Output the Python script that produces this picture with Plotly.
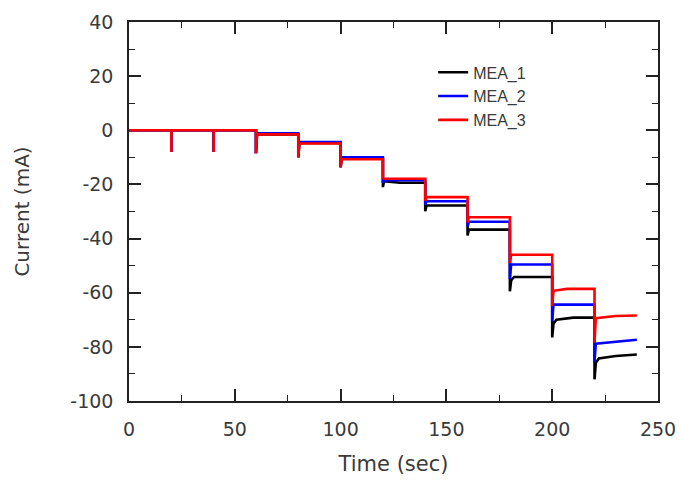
import plotly.graph_objects as go

# ---- data ----
t_mea1 = [0, 20, 20, 20, 40, 40, 40, 60, 60, 60.5, 80, 80, 80.5, 100, 100, 100.5,
          120, 120, 120.5, 128, 140, 140, 140.6, 160, 160, 160.6, 180, 180, 180.6, 182,
          200, 200, 200.6, 202, 210, 220, 220, 220.6, 222, 230, 240]
i_mea1 = [0, 0, -8, 0, 0, -8, 0, 0, -8.5, -1.5, -1.5, -10, -4.7, -4.7, -13.7, -10.5,
          -10.5, -21, -18.8, -19.4, -19.4, -29.9, -27.8, -27.8, -38.9, -36.7, -36.7, -59.5, -55.5, -54.2,
          -54.2, -76.5, -71.5, -70, -69.2, -69.2, -92, -86, -84.3, -83.4, -82.8]

t_mea2 = [0, 20, 20, 20, 40, 40, 40, 60, 60, 60.5, 80, 80, 80.5, 100, 100, 100.5,
          120, 120, 120.5, 140, 140, 140.6, 160, 160, 160.6, 180, 180, 180.6,
          200, 200, 200.6, 220, 220, 220.6, 230, 240]
i_mea2 = [0, 0, -8, 0, 0, -8, 0, 0, -8.5, -1.1, -1.1, -10, -4.3, -4.3, -13.7, -10.0,
          -10.0, -19.5, -18.4, -18.4, -27.5, -26.2, -26.2, -35.5, -33.8, -33.8, -55, -49.6,
          -49.6, -70.5, -64.4, -64.4, -85.5, -78.8, -78.2, -77.4]

t_mea3 = [0, 20, 20, 20, 40, 40, 40, 60, 60, 60.5, 80, 80, 80.5, 100, 100, 100.5,
          120, 120, 120.5, 140, 140, 140.6, 160, 160, 160.6, 180, 180, 180.6,
          200, 200, 200.6, 207, 220, 220, 220.6, 230, 240]
i_mea3 = [0, 0, -8, 0, 0, -8, 0, 0, -8.5, -1.5, -1.5, -10, -4.9, -4.9, -13.7, -10.7,
          -10.7, -17.5, -17.9, -17.9, -26, -24.7, -24.7, -34, -32.1, -32.1, -49, -46.0,
          -46.0, -65, -59.3, -58.6, -58.6, -78.5, -69.4, -68.6, -68.4]

x_ticks = [0, 50, 100, 150, 200, 250]
x_labels = ["0", "50", "100", "150", "200", "250"]
y_ticks = [-100, -80, -60, -40, -20, 0, 20, 40]
y_labels = ["-100", "-80", "-60", "-40", "-20", "0", "20", "40"]

fig = go.Figure()
fig.add_trace(go.Scatter(x=t_mea1, y=i_mea1, mode="lines", name="MEA_1",
                         line=dict(color="#000000", width=2.6)))
fig.add_trace(go.Scatter(x=t_mea2, y=i_mea2, mode="lines", name="MEA_2",
                         line=dict(color="#0000ff", width=2.6)))
fig.add_trace(go.Scatter(x=t_mea3, y=i_mea3, mode="lines", name="MEA_3",
                         line=dict(color="#ff0000", width=2.6)))

font_family = "DejaVu Sans, Arial, sans-serif"
txt_color = "#3a3a3a"
axis_common = dict(
    showline=True, linecolor="#222222", linewidth=1.5, mirror="ticks",
    ticks="inside", ticklen=12, tickwidth=1.5, tickcolor="#222222",
    showgrid=False, zeroline=False, layer="below traces",
    ticklabelstandoff=10, automargin=False,
    tickfont=dict(family=font_family, size=19, color=txt_color),
)

fig.update_layout(
    width=680, height=482,
    margin=dict(l=129, r=22, t=22, b=81),
    paper_bgcolor="white", plot_bgcolor="white",
    showlegend=True,
    legend=dict(x=0.575, y=0.912, xanchor="left", yanchor="top",
                bgcolor="rgba(0,0,0,0)", borderwidth=0,
                font=dict(family="Liberation Sans, Arial, sans-serif", size=16, color=txt_color),
                tracegroupgap=0),
)
fig.update_xaxes(range=[0, 250], tickvals=x_ticks, ticktext=x_labels, **axis_common,
                 minor=dict(ticks="inside", ticklen=6, tickwidth=1.2, tickcolor="#222222", dtick=25, tick0=0),
                 title=dict(text="Time (sec)", font=dict(family=font_family, size=21, color=txt_color), standoff=18))
fig.update_yaxes(range=[-100, 40], tickvals=y_ticks, ticktext=y_labels, **axis_common,
                 minor=dict(ticks="inside", ticklen=6, tickwidth=1.2, tickcolor="#222222", dtick=10, tick0=0),
                 title=dict(text="Current (mA)", font=dict(family=font_family, size=20, color=txt_color), standoff=35))

fig.write_html("out.html")
